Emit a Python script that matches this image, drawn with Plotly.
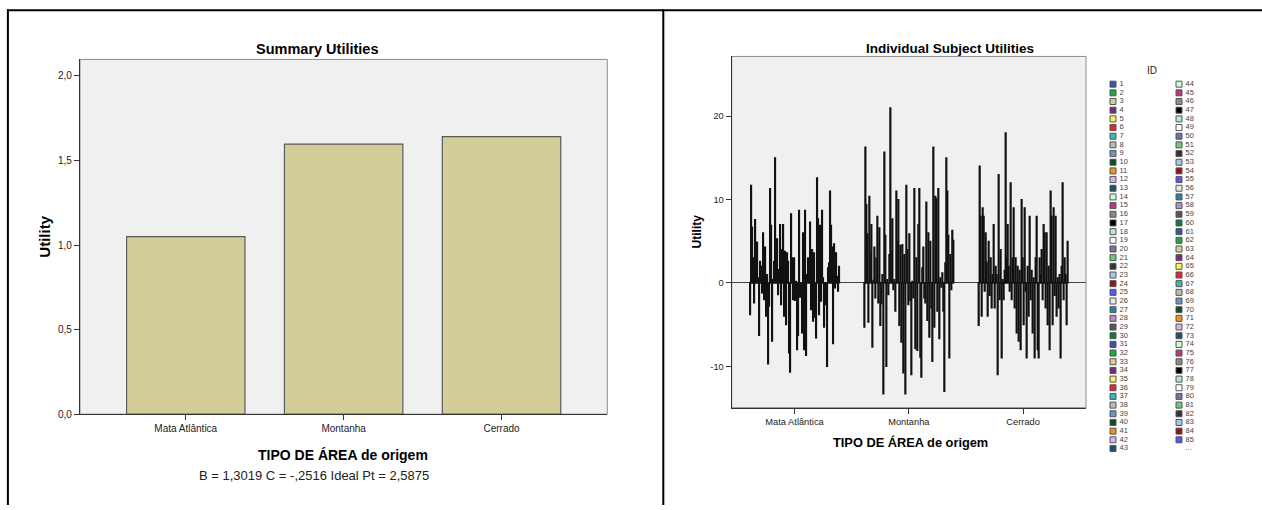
import plotly.graph_objects as go

W, H = 1262, 510


def px(x):
    return x / W


def py(y):
    return 1 - y / H


# ---------------- data ----------------
categories = ["Mata Atlântica", "Montanha", "Cerrado"]
summary_utility = [1.0503, 1.5974, 1.6413]
summary_tickvals = [0.0, 0.5, 1.0, 1.5, 2.0]
summary_ticktext = ["0,0", "0,5", "1,0", "1,5", "2,0"]
footnote = "B = 1,3019 C = -,2516 Ideal Pt = 2,5875"

util_mata = [
    -3.8, 11.7, 6.7, 3.0, -2.4, 7.6, 2.4, 4.9, 0.6, -6.3,
    2.6, 2.0, -1.2, 6.0, -2.0, 4.3, -4.0, 1.0, -9.7, -2.8,
    11.3, 6.9, -7.0, 0.4, 2.6, 15.0, 2.5, 5.3, -1.4, 1.6,
    7.0, -2.6, 4.0, 7.0, -4.0, 3.8, -5.0, 3.6, 2.6, -8.4,
    -10.7, 8.3, 3.0, -2.0, 3.0, -2.1, 0.2, -8.0, -6.3, 8.7,
    -1.7, -0.2, -6.0, 6.0, -8.0, 8.7, -8.7, 1.0, 3.0, 1.5,
    7.3, -3.2, 4.0, -4.6, 3.6, -4.1, -6.6, 12.6, 7.7, -3.8,
    6.9, -2.2, 8.7, 0.6, -5.3, -0.8, -2.6, -10.0, 1.8, 2.4,
    11.0, 6.9, 4.3, -7.3, 4.7, -0.6, 3.6, 0.8, -1.0, 2.0,
]
util_montanha = [
    -5.3, 16.3, 9.4, 5.9, -4.7, 10.4, 3.7, 7.0, -7.7, 0.3,
    4.3, -1.8, 3.0, 8.0, -2.4, 6.6, -5.1, -2.5, 1.0, -13.3,
    15.7, 5.7, -10.0, 0.4, -1.4, 3.4, 21.0, 3.8, 7.7, -0.8,
    0.4, -3.4, 11.0, 5.0, 10.0, -5.1, 4.5, -7.1, 4.6, -10.8,
    3.4, -13.3, 11.7, 4.0, -2.6, 5.9, -2.1, -11.0, 0.2, -1.8,
    11.3, -7.9, 3.0, -8.1, 7.0, 11.3, -8.9, -11.3, 1.8, 4.3,
    -1.8, -2.4, 9.7, -4.5, 6.0, -6.5, 5.0, -3.0, -9.4, 16.3,
    -5.3, 10.4, 10.1, -3.4, 11.3, -6.7, 0.6, -0.5, 1.2, -3.4,
    -13.0, 2.4, 15.0, 11.0, 5.7, -9.0, 3.4, -0.8, 6.3, 5.1,
]
util_cerrado = [
    -5.1, 14.0, 8.0, -4.0, 9.0, 8.0, -1.0, 6.0, 2.5, -4.0,
    5.0, -1.5, 3.0, -3.0, 1.0, 7.0, -3.0, 2.0, 1.0, -11.0,
    13.0, -2.0, 4.0, -9.0, 0.4, -2.0, 1.5, 18.0, 3.0, 7.0,
    2.0, -1.0, 12.0, -2.0, 3.0, 9.0, -3.0, 3.0, -6.0, 2.0,
    -7.0, 1.5, -8.0, 10.0, 3.0, -5.0, 9.0, -1.0, -9.0, 2.0,
    -4.0, 8.0, -2.0, 1.5, -6.0, 0.6, -9.0, 3.0, 8.0, -8.0,
    -9.0, 3.0, 1.0, 4.0, -2.0, 7.0, 6.0, -3.0, 6.0, -5.0,
    2.0, -8.0, 11.0, 8.0, -5.0, 9.0, -1.5, 8.0, -4.0, 0.6,
    -3.0, 1.0, -9.0, 2.0, 12.0, -2.0, 3.0, 1.0, -5.0, 5.0,
]
subject_ids = list(range(1, len(util_mata) + 1))
indiv_tickvals = [-10, 0, 10, 20]
indiv_ticktext = ["-10", "0", "10", "20"]

id_palette = [
    "#3953a4", "#1fa743", "#d3ce97", "#7a2a7e", "#f9f25e", "#e9262a",
    "#3cb6b5", "#bababa", "#6a94ca", "#0f4b2a", "#f7901e", "#dcb3e5",
    "#19536b", "#cffdcd", "#b73b7e", "#8a8a8a", "#000000", "#b5e5e5",
    "#ffffff", "#75719b", "#6acd75", "#333333", "#a5c9ec", "#990f14",
    "#5759f5", "#e8e8e8", "#2382a5", "#b38fc3", "#555555", "#0a7b3e",
]
legend_shown = 85
legend_rows_col1 = 43

FONT = "Arial, 'Liberation Sans', sans-serif"

fig = go.Figure()

# left: summary utilities
fig.add_trace(go.Bar(
    x=categories, y=summary_utility, width=0.75,
    marker=dict(color="#d3ce97", line=dict(color="#5a5a5a", width=1.2)),
    xaxis="x", yaxis="y", showlegend=False, name="Summary",
))

# right: individual subject utilities
for i, sid in enumerate(subject_ids):
    fig.add_trace(go.Bar(
        x=categories,
        y=[util_mata[i], util_montanha[i], util_cerrado[i]],
        marker=dict(color=id_palette[i % len(id_palette)],
                    line=dict(color="#111111", width=1.15)),
        xaxis="x2", yaxis="y2", showlegend=False, name=str(sid),
    ))

# legend (drawn on an invisible pixel-coordinate axis)
leg_x = []
leg_y = []
leg_cols = []
for k in range(legend_shown):
    col = 0 if k < legend_rows_col1 else 1
    row = k if col == 0 else k - legend_rows_col1
    leg_x.append(1113 if col == 0 else 1179)
    leg_y.append(85 + row * 8.76)
    leg_cols.append(id_palette[k % len(id_palette)])

fig.add_trace(go.Scatter(
    x=leg_x, y=leg_y, mode="markers",
    marker=dict(symbol="square", size=6, color=leg_cols,
                line=dict(color="#555555", width=1)),
    xaxis="x3", yaxis="y3", showlegend=False, hoverinfo="skip",
))
leg_tx = [x + 6.5 for x in leg_x] + [1179 + 6.5]
leg_ty = leg_y + [85 + (legend_shown - legend_rows_col1) * 8.76]
leg_text = [str(s) for s in subject_ids[:legend_shown]] + ["..."]
fig.add_trace(go.Scatter(
    x=leg_tx, y=leg_ty, mode="text", text=leg_text,
    textposition="middle right",
    textfont=dict(family=FONT, size=7.5, color="#444444"),
    xaxis="x3", yaxis="y3", showlegend=False, hoverinfo="skip",
))

axis_common = dict(
    showgrid=False, zeroline=False, showline=True, linecolor="#333333",
    linewidth=1.2, ticks="outside", ticklen=5, tickcolor="#333333",
    tickfont=dict(family=FONT, size=10, color="#222222"),
)

fig.update_layout(
    width=W, height=H,
    margin=dict(l=0, r=0, t=0, b=0),
    paper_bgcolor="white",
    plot_bgcolor="rgba(0,0,0,0)",
    barmode="group", bargap=0.213, bargroupgap=0,
    font=dict(family=FONT, color="#000000"),
    showlegend=False,
    xaxis=dict(domain=[px(80), px(607.3)], anchor="y", type="category",
               range=[-0.67, 2.67], **axis_common),
    yaxis=dict(domain=[py(418.3), py(60)], anchor="x", range=[0, 2.098],
               tickvals=summary_tickvals, ticktext=summary_ticktext,
               **axis_common),
    xaxis2=dict(domain=[px(731.7), px(1086)], anchor="y2", type="category",
                range=[-0.55, 2.55],
                **{**axis_common, "tickfont": dict(family=FONT, size=9.3, color="#222222")}),
    yaxis2=dict(domain=[py(411.7), py(57)], anchor="x2",
                range=[-14.96, 27.16],
                tickvals=indiv_tickvals, ticktext=indiv_ticktext,
                **{**axis_common, "zeroline": True, "zerolinecolor": "#444444",
                   "zerolinewidth": 1,
                   "tickfont": dict(family=FONT, size=9.3, color="#222222")}),
    xaxis3=dict(domain=[0, 1], anchor="y3", range=[0, W], visible=False,
                fixedrange=True),
    yaxis3=dict(domain=[0, 1], anchor="x3", range=[H, 0], visible=False,
                fixedrange=True),
)

shapes = [
    dict(type="rect", xref="x domain", yref="y domain", x0=0, x1=1, y0=0, y1=1,
         fillcolor="#f0f0f0", line=dict(color="#8c8c8c", width=1), layer="below"),
    dict(type="rect", xref="x2 domain", yref="y2 domain", x0=0, x1=1, y0=0, y1=1,
         fillcolor="#f0f0f0", line=dict(color="#8c8c8c", width=1), layer="below"),
    dict(type="line", xref="paper", yref="paper", x0=px(7), x1=1, y0=py(10.3), y1=py(10.3),
         line=dict(color="#000000", width=2)),
    dict(type="line", xref="paper", yref="paper", x0=px(7.9), x1=px(7.9), y0=py(9.3), y1=0,
         line=dict(color="#000000", width=2)),
    dict(type="line", xref="paper", yref="paper", x0=px(663.3), x1=px(663.3), y0=py(9.3), y1=0,
         line=dict(color="#000000", width=2)),
]
fig.update_layout(shapes=shapes)


def ann(text, x, y, size, bold=False, angle=0, color="#000000"):
    return dict(
        text=f"<b>{text}</b>" if bold else text,
        x=px(x), y=py(y), xref="paper", yref="paper",
        xanchor="center", yanchor="middle", showarrow=False, textangle=angle,
        font=dict(family=FONT, size=size, color=color),
    )


fig.update_layout(annotations=[
    ann("Summary Utilities", 317, 49, 14.5, bold=True),
    ann("TIPO DE ÁREA de origem", 342.5, 460, 14, bold=True),
    ann(footnote, 314, 480, 13, color="#222222"),
    ann("Utility", 45, 239, 15, bold=True, angle=-90),
    ann("Individual Subject Utilities", 950, 49, 13.5, bold=True),
    ann("TIPO DE ÁREA de origem", 910, 446.5, 12.8, bold=True),
    ann("Utility", 696.7, 234, 12, bold=True, angle=-90),
    ann("ID", 1152, 71, 10, color="#222222"),
])

fig.write_html(
    "out.html",
    config={"displayModeBar": False},
    post_script="document.body.style.margin='0';document.body.style.overflow='hidden';",
)
